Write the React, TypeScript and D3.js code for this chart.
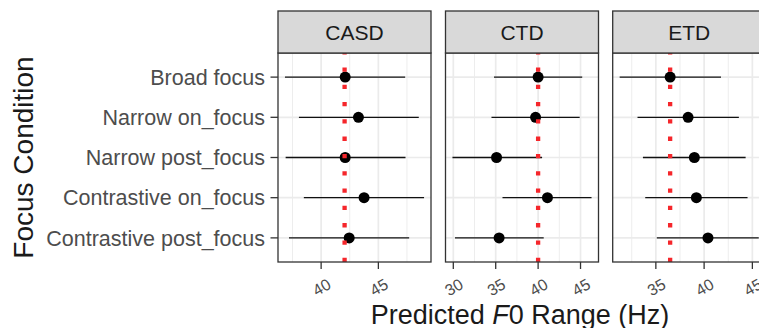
import React from "react";
import * as d3 from "d3";

const conditions = [
  "Broad focus",
  "Narrow on_focus",
  "Narrow post_focus",
  "Contrastive on_focus",
  "Contrastive post_focus",
];
const groups = ["CASD", "CTD", "ETD"];

const estCASD = [42.1, 43.26, 42.1, 43.75, 42.45];
const lowCASD = [36.84, 38.06, 36.9, 38.49, 37.19];
const upCASD = [47.34, 48.53, 47.37, 48.99, 47.69];

const estCTD = [40.0, 39.7, 35.1, 41.1, 35.4];
const lowCTD = [34.8, 34.5, 29.9, 35.8, 30.2];
const upCTD = [45.2, 44.9, 40.47, 46.3, 40.66];

const estETD = [36.48, 38.34, 38.99, 39.2, 40.4];
const lowETD = [31.25, 33.1, 33.66, 33.9, 35.1];
const upETD = [41.75, 43.6, 44.3, 44.5, 45.66];

const refLines = [42.05, 40.0, 36.48];

const estimates = [estCASD, estCTD, estETD];
const lowers = [lowCASD, lowCTD, lowETD];
const uppers = [upCASD, upCTD, upETD];

const W = 759;
const H = 328;
const FONT = "'Liberation Sans', Arial, Helvetica, sans-serif";

const panelLefts = [278, 445.5, 612.7];
const panelW = 153;
const stripTop = 11;
const panelTop = 53;
const panelBottom = 262;

export default function App() {
  const y = d3
    .scalePoint<string>()
    .domain(conditions)
    .range([panelTop, panelBottom])
    .padding(0.6);

  return (
    <div style={{ position: "absolute", left: 0, top: 0 }}>
      <svg width={W} height={H} style={{ display: "block", fontFamily: FONT }}>
        <rect x={0} y={0} width={W} height={H} fill="#ffffff" />
        {groups.map((g, gi) => {
          const lo = d3.min(lowers[gi]) as number;
          const hi = d3.max(uppers[gi]) as number;
          const pad = (hi - lo) * 0.05;
          const left = panelLefts[gi];
          const x = d3
            .scaleLinear()
            .domain([lo - pad, hi + pad])
            .range([left, left + panelW]);
          const [d0, d1] = x.domain();
          const majors = d3.range(Math.ceil(d0 / 5) * 5, d1 + 1e-9, 5);
          const minors = d3
            .range(Math.ceil((d0 - 2.5) / 5) * 5 + 2.5, d1 + 1e-9, 5)
            .filter((v) => v > d0);
          return (
            <g key={g}>
              <rect x={left} y={panelTop} width={panelW} height={panelBottom - panelTop} fill="#ffffff" />
              {minors.map((v) => (
                <line key={"mn" + v} x1={x(v)} x2={x(v)} y1={panelTop} y2={panelBottom} stroke="#ebebeb" strokeWidth={0.9} />
              ))}
              {majors.map((v) => (
                <line key={"mj" + v} x1={x(v)} x2={x(v)} y1={panelTop} y2={panelBottom} stroke="#ebebeb" strokeWidth={1.7} />
              ))}
              {conditions.map((c) => (
                <line key={"hg" + c} x1={left} x2={left + panelW} y1={y(c)} y2={y(c)} stroke="#ebebeb" strokeWidth={1.7} />
              ))}
              {conditions.map((c, i) => (
                <line
                  key={"eb" + c}
                  x1={x(lowers[gi][i])}
                  x2={x(uppers[gi][i])}
                  y1={y(c)}
                  y2={y(c)}
                  stroke="#111111"
                  strokeWidth={1.3}
                />
              ))}
              {conditions.map((c, i) => (
                <circle key={"pt" + c} cx={x(estimates[gi][i])} cy={y(c)} r={5.5} fill="#000000" />
              ))}
              <line
                x1={x(refLines[gi])}
                x2={x(refLines[gi])}
                y1={panelBottom}
                y2={panelTop}
                stroke="#f5262b"
                strokeWidth={4.3}
                strokeDasharray="4.3,13"
              />
              <rect
                x={left}
                y={panelTop}
                width={panelW}
                height={panelBottom - panelTop}
                fill="none"
                stroke="#333333"
                strokeWidth={1.3}
              />
              <rect
                x={left}
                y={stripTop}
                width={panelW}
                height={panelTop - stripTop}
                fill="#d9d9d9"
                stroke="#333333"
                strokeWidth={1.3}
              />
              <text
                x={left + panelW / 2}
                y={(stripTop + panelTop) / 2}
                dy="0.36em"
                textAnchor="middle"
                fontSize={21}
                fill="#1a1a1a"
              >
                {g}
              </text>
              {majors.map((v) => (
                <g key={"xt" + v}>
                  <line x1={x(v)} x2={x(v)} y1={panelBottom} y2={panelBottom + 7} stroke="#333333" strokeWidth={1.3} />
                  <text
                    transform={`translate(${x(v) + 0.5},${287}) rotate(-30)`}
                    textAnchor="middle"
                    dy="0.36em"
                    fontSize={16}
                    fill="#4d4d4d"
                  >
                    {v}
                  </text>
                </g>
              ))}
            </g>
          );
        })}
        {conditions.map((c) => (
          <g key={"yt" + c}>
            <line x1={270.5} x2={278} y1={y(c)} y2={y(c)} stroke="#333333" strokeWidth={1.3} />
            <text x={265} y={y(c)} dy="0.36em" textAnchor="end" fontSize={21.5} fill="#4d4d4d">
              {c}
            </text>
          </g>
        ))}
        <text x={520} y={324} textAnchor="middle" fontSize={27} fill="#1a1a1a">
          Predicted <tspan fontStyle="italic">F</tspan>0 Range (Hz)
        </text>
        <text
          transform={`translate(32.5,${(panelTop + panelBottom) / 2}) rotate(-90)`}
          textAnchor="middle"
          fontSize={28}
          fill="#1a1a1a"
        >
          Focus Condition
        </text>
      </svg>
    </div>
  );
}
